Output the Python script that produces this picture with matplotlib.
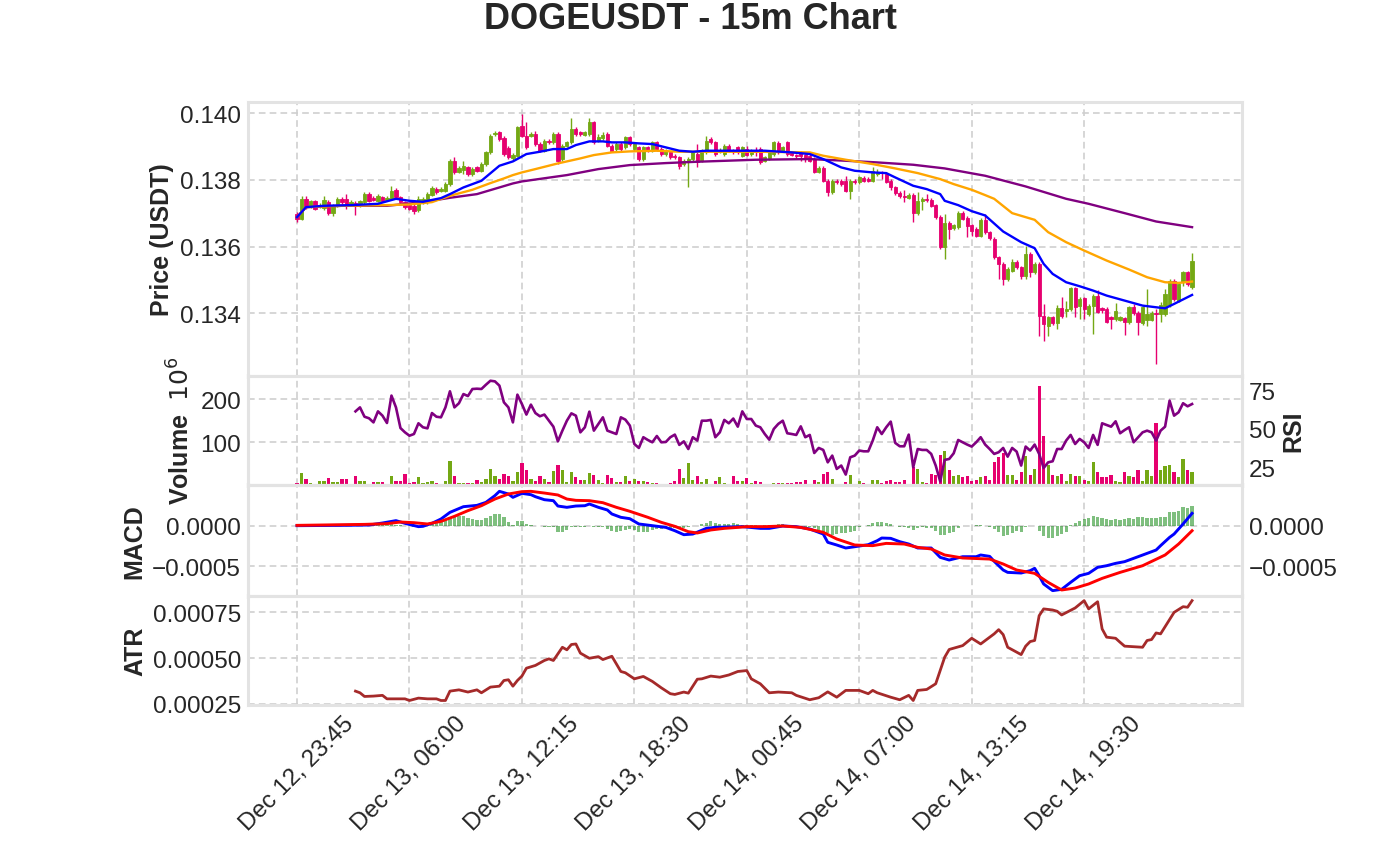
import matplotlib
matplotlib.use("Agg")
import matplotlib.pyplot as plt
import numpy as np
from matplotlib.ticker import FuncFormatter

plt.rcParams['font.family'] = ['Liberation Sans', 'DejaVu Sans']

# ---------------- data ----------------
title = "DOGEUSDT - 15m Chart"
tick_idx = [0, 25, 50, 75, 100, 125, 150, 175]
tick_labels = ["Dec 12, 23:45", "Dec 13, 06:00", "Dec 13, 12:15", "Dec 13, 18:30",
               "Dec 14, 00:45", "Dec 14, 07:00", "Dec 14, 13:15", "Dec 14, 19:30"]

opens = [0.13698,0.13683,0.13743,0.13720,0.13735,0.13720,0.13715,0.13733,0.13700,0.13722,
 0.13743,0.13743,0.13725,0.13730,0.13722,0.13733,0.13757,0.13745,0.13737,0.13748,
 0.13740,0.13743,0.13770,0.13748,0.13733,0.13724,0.13722,0.13708,0.13733,0.13733,
 0.13754,0.13772,0.13767,0.13767,0.13787,0.13857,0.13824,0.13830,0.13837,0.13817,
 0.13837,0.13827,0.13847,0.13882,0.13936,0.13942,0.13924,0.13894,0.13864,0.13872,
 0.13962,0.13932,0.13932,0.13937,0.13907,0.13887,0.13917,0.13912,0.13937,0.13862,
 0.13902,0.13912,0.13952,0.13942,0.13934,0.13937,0.13972,0.13917,0.13924,0.13937,
 0.13902,0.13892,0.13907,0.13897,0.13927,0.13892,0.13897,0.13862,0.13897,0.13887,
 0.13912,0.13892,0.13877,0.13882,0.13872,0.13867,0.13847,0.13857,0.13862,0.13877,
 0.13857,0.13882,0.13922,0.13912,0.13884,0.13877,0.13902,0.13887,0.13897,0.13872,
 0.13892,0.13877,0.13887,0.13892,0.13857,0.13864,0.13877,0.13910,0.13887,0.13912,
 0.13882,0.13874,0.13880,0.13874,0.13872,0.13862,0.13824,0.13834,0.13797,0.13763,
 0.13797,0.13797,0.13795,0.13767,0.13797,0.13792,0.13805,0.13802,0.13797,0.13817,
 0.13824,0.13817,0.13797,0.13778,0.13760,0.13752,0.13746,0.13754,0.13700,0.13737,
 0.13743,0.13740,0.13724,0.13688,0.13598,0.13670,0.13655,0.13658,0.13701,0.13685,
 0.13663,0.13653,0.13633,0.13680,0.13643,0.13623,0.13568,0.13548,0.13503,0.13528,
 0.13555,0.13538,0.13513,0.13578,0.13523,0.13548,0.13391,0.13363,0.13388,0.13371,
 0.13415,0.13408,0.13413,0.13475,0.13421,0.13445,0.13398,0.13423,0.13453,0.13415,
 0.13413,0.13388,0.13383,0.13381,0.13385,0.13373,0.13418,0.13401,0.13371,0.13381,
 0.13381,0.13401,0.13398,0.13398,0.13425,0.13498,0.13438,0.13493,0.13523,0.13478]

highs = [0.13703,0.13752,0.13752,0.13740,0.13740,0.13730,0.13752,0.13738,0.13727,0.13748,
 0.13748,0.13757,0.13738,0.13735,0.13740,0.13762,0.13762,0.13750,0.13757,0.13752,
 0.13750,0.13781,0.13775,0.13752,0.13737,0.13728,0.13727,0.13750,0.13748,0.13762,
 0.13782,0.13777,0.13777,0.13792,0.13862,0.13867,0.13840,0.13855,0.13842,0.13837,
 0.13842,0.13852,0.13887,0.13937,0.13947,0.13947,0.13930,0.13900,0.13880,0.13962,
 0.13997,0.13972,0.13942,0.13947,0.13912,0.13922,0.13922,0.13942,0.13942,0.13907,
 0.13917,0.13984,0.13957,0.13947,0.13947,0.13984,0.13977,0.13937,0.13942,0.13942,
 0.13907,0.13912,0.13912,0.13932,0.13932,0.13912,0.13902,0.13902,0.13902,0.13917,
 0.13917,0.13897,0.13892,0.13887,0.13877,0.13872,0.13862,0.13867,0.13887,0.13907,
 0.13892,0.13932,0.13927,0.13917,0.13895,0.13907,0.13907,0.13892,0.13902,0.13902,
 0.13902,0.13892,0.13897,0.13897,0.13872,0.13887,0.13917,0.13915,0.13902,0.13917,
 0.13887,0.13877,0.13887,0.13877,0.13877,0.13867,0.13840,0.13840,0.13802,0.13802,
 0.13802,0.13802,0.13812,0.13802,0.13802,0.13812,0.13810,0.13807,0.13837,0.13832,
 0.13827,0.13822,0.13802,0.13782,0.13765,0.13770,0.13760,0.13760,0.13763,0.13748,
 0.13757,0.13745,0.13728,0.13693,0.13698,0.13675,0.13668,0.13706,0.13706,0.13690,
 0.13668,0.13658,0.13685,0.13698,0.13648,0.13628,0.13573,0.13553,0.13538,0.13563,
 0.13560,0.13543,0.13603,0.13583,0.13553,0.13553,0.13428,0.13393,0.13393,0.13425,
 0.13448,0.13438,0.13480,0.13480,0.13448,0.13450,0.13428,0.13458,0.13471,0.13420,
 0.13418,0.13393,0.13431,0.13393,0.13390,0.13423,0.13428,0.13406,0.13423,0.13473,
 0.13406,0.13413,0.13433,0.13473,0.13503,0.13503,0.13493,0.13528,0.13528,0.13582]

lows = [0.13673,0.13678,0.13713,0.13715,0.13708,0.13715,0.13710,0.13695,0.13690,0.13718,
 0.13728,0.13713,0.13720,0.13693,0.13718,0.13728,0.13733,0.13735,0.13733,0.13733,
 0.13737,0.13740,0.13743,0.13728,0.13713,0.13708,0.13698,0.13703,0.13728,0.13728,
 0.13750,0.13757,0.13762,0.13762,0.13782,0.13817,0.13820,0.13817,0.13812,0.13810,
 0.13822,0.13822,0.13842,0.13877,0.13932,0.13917,0.13872,0.13862,0.13860,0.13867,
 0.13927,0.13892,0.13927,0.13902,0.13882,0.13882,0.13907,0.13907,0.13847,0.13857,
 0.13897,0.13907,0.13932,0.13932,0.13930,0.13932,0.13907,0.13912,0.13920,0.13897,
 0.13882,0.13887,0.13887,0.13892,0.13902,0.13887,0.13857,0.13857,0.13882,0.13882,
 0.13887,0.13872,0.13872,0.13862,0.13862,0.13832,0.13842,0.13778,0.13857,0.13837,
 0.13852,0.13877,0.13907,0.13872,0.13880,0.13872,0.13882,0.13877,0.13877,0.13867,
 0.13870,0.13872,0.13872,0.13847,0.13852,0.13860,0.13872,0.13877,0.13882,0.13872,
 0.13870,0.13865,0.13857,0.13852,0.13852,0.13819,0.13820,0.13792,0.13752,0.13757,
 0.13787,0.13782,0.13762,0.13743,0.13787,0.13787,0.13792,0.13792,0.13792,0.13812,
 0.13802,0.13789,0.13770,0.13755,0.13745,0.13733,0.13742,0.13673,0.13695,0.13708,
 0.13733,0.13717,0.13683,0.13593,0.13563,0.13623,0.13650,0.13653,0.13678,0.13628,
 0.13633,0.13628,0.13628,0.13638,0.13621,0.13563,0.13503,0.13485,0.13498,0.13523,
 0.13533,0.13503,0.13503,0.13508,0.13518,0.13333,0.13318,0.13333,0.13366,0.13353,
 0.13386,0.13388,0.13408,0.13388,0.13383,0.13383,0.13393,0.13338,0.13400,0.13401,
 0.13370,0.13353,0.13378,0.13376,0.13336,0.13368,0.13396,0.13336,0.13366,0.13363,
 0.13376,0.13249,0.13373,0.13393,0.13420,0.13438,0.13433,0.13483,0.13483,0.13473]

closes = [0.13683,0.13743,0.13718,0.13735,0.13713,0.13725,0.13740,0.13700,0.13722,0.13743,
 0.13733,0.13728,0.13732,0.13722,0.13735,0.13757,0.13737,0.13740,0.13750,0.13737,
 0.13745,0.13767,0.13748,0.13733,0.13718,0.13713,0.13705,0.13743,0.13743,0.13757,
 0.13774,0.13762,0.13772,0.13787,0.13857,0.13822,0.13834,0.13842,0.13817,0.13832,
 0.13827,0.13847,0.13882,0.13932,0.13940,0.13922,0.13877,0.13867,0.13874,0.13957,
 0.13932,0.13897,0.13937,0.13907,0.13887,0.13917,0.13912,0.13937,0.13857,0.13902,
 0.13912,0.13952,0.13937,0.13937,0.13942,0.13972,0.13914,0.13927,0.13934,0.13902,
 0.13887,0.13907,0.13892,0.13927,0.13907,0.13907,0.13862,0.13897,0.13887,0.13912,
 0.13892,0.13877,0.13887,0.13867,0.13867,0.13842,0.13857,0.13862,0.13882,0.13852,
 0.13887,0.13917,0.13912,0.13877,0.13890,0.13902,0.13887,0.13882,0.13882,0.13897,
 0.13875,0.13887,0.13882,0.13852,0.13867,0.13882,0.13912,0.13882,0.13897,0.13877,
 0.13874,0.13870,0.13870,0.13862,0.13857,0.13824,0.13834,0.13797,0.13764,0.13797,
 0.13792,0.13787,0.13767,0.13797,0.13792,0.13807,0.13797,0.13797,0.13827,0.13824,
 0.13820,0.13794,0.13778,0.13760,0.13750,0.13748,0.13754,0.13700,0.13737,0.13743,
 0.13738,0.13722,0.13688,0.13598,0.13670,0.13653,0.13663,0.13701,0.13683,0.13661,
 0.13648,0.13633,0.13680,0.13643,0.13626,0.13568,0.13548,0.13503,0.13533,0.13555,
 0.13538,0.13513,0.13578,0.13523,0.13548,0.13391,0.13368,0.13388,0.13371,0.13415,
 0.13391,0.13413,0.13475,0.13418,0.13443,0.13413,0.13423,0.13453,0.13405,0.13411,
 0.13375,0.13383,0.13408,0.13388,0.13373,0.13418,0.13401,0.13373,0.13418,0.13398,
 0.13401,0.13398,0.13425,0.13458,0.13498,0.13443,0.13488,0.13523,0.13488,0.13558]

volume_m = [6,29,14,5,4,10,10,18,8,9,15,15,4,21,10,11,4,9,7,7,
 3,23,10,11,27,6,8,19,5,9,11,5,3,11,57,21,6,5,6,6,
 13,9,15,37,22,14,27,23,11,30,53,35,16,11,23,14,8,34,48,35,
 9,32,19,12,13,29,25,13,5,25,18,9,7,21,11,16,10,11,7,5,
 5,3,3,5,10,37,18,51,12,21,9,16,4,11,19,5,3,23,10,11,
 18,5,11,8,4,3,6,6,6,5,5,7,9,13,4,13,9,27,30,15,
 4,4,9,25,3,11,5,3,13,13,6,10,13,9,9,13,3,43,38,9,
 5,27,25,71,80,36,23,25,19,23,11,13,19,23,13,55,67,76,25,25,
 13,30,68,25,37,232,114,48,25,21,27,11,27,23,23,13,11,55,31,19,
 19,25,11,9,30,23,19,36,11,35,23,146,36,45,48,32,19,61,36,30]

# moving averages (candle index, value)
ema_fast_idx = [0,2,6,12,18,22,25,28,32,34,37,41,45,48,51,54,57,60,62,65,68,70,73,76,79,82,85,88,
 91,94,99,104,110,114,117,121,124,128,131,133,137,140,143,144,147,150,153,157,161,164,166,168,
 171,174,177,180,184,188,191,193,195,199]
ema_fast = [0.13688,0.13718,0.13722,0.13724,0.13728,0.13743,0.13737,0.13734,0.13745,0.13757,
 0.13777,0.13797,0.13842,0.13855,0.13877,0.13884,0.13892,0.13892,0.13904,0.13915,0.13915,
 0.13912,0.13912,0.13909,0.13907,0.13897,0.13887,0.13884,0.13887,0.13887,0.13887,0.13887,
 0.13882,0.13877,0.13862,0.13837,0.13827,0.13822,0.13820,0.13807,0.13782,0.13772,0.13757,
 0.13737,0.13724,0.13706,0.13693,0.13645,0.13613,0.13595,0.13548,0.13518,0.13493,0.13481,
 0.13468,0.13453,0.13438,0.13423,0.13418,0.13415,0.13428,0.13455]

ema_mid_idx = [0,2,10,20,25,30,34,39,43,46,48,50,53,58,63,66,70,74,80,85,90,94,102,114,117,
 122,128,133,138,143,146,150,153,155,159,164,167,171,175,180,185,189,193,196,199]
ema_mid = [0.13688,0.13718,0.13722,0.13724,0.13726,0.13733,0.13752,0.13770,0.13790,0.13804,
 0.13814,0.13822,0.13832,0.13849,0.13864,0.13874,0.13882,0.13885,0.13887,0.13884,0.13884,
 0.13884,0.13884,0.13882,0.13872,0.13860,0.13847,0.13834,0.13820,0.13802,0.13787,0.13770,
 0.13754,0.13743,0.13700,0.13680,0.13643,0.13613,0.13588,0.13558,0.13531,0.13508,0.13493,
 0.13491,0.13495]

ema_slow_idx = [0,2,10,20,28,34,40,45,48,50,60,67,74,82,89,102,114,122,129,137,144,153,162,
 171,176,184,191,199]
ema_slow = [0.13688,0.13718,0.13722,0.13722,0.13733,0.13746,0.13757,0.13777,0.13789,0.13795,
 0.13814,0.13832,0.13844,0.13850,0.13854,0.13860,0.13862,0.13857,0.13852,0.13845,0.13834,
 0.13812,0.13780,0.13743,0.13728,0.13700,0.13675,0.13658]

# RSI (from candle 13 onward)
rsi_start = 13
rsi = [61.5,64.1,58.0,57.0,54.3,61.5,58.7,53.9,71.8,64.1,
 50.6,47.8,45.6,46.7,53.7,51.1,50.4,60.4,58.0,57.6,
 64.1,74.6,64.1,66.8,72.8,71.5,76.1,76.3,76.1,78.9,
 81.5,81.1,78.3,67.4,64.1,54.3,72.4,66.3,59.4,65.9,
 60.4,58.3,59.4,55.4,51.5,41.9,48.9,55.4,60.2,58.7,
 47.8,51.1,61.3,48.9,53.3,57.6,48.9,47.8,46.7,57.6,
 56.1,52.2,40.2,37.6,44.6,42.8,41.3,45.4,41.3,41.5,
 44.6,46.3,39.6,41.9,36.9,44.6,42.4,55.4,55.4,55.9,
 44.6,47.8,55.9,53.7,56.8,51.5,61.5,56.5,56.5,52.2,
 51.1,46.7,43.0,50.0,53.3,55.4,47.2,46.7,46.1,51.7,
 44.6,46.1,34.3,37.6,36.3,28.2,32.6,23.9,26.1,20.2,
 31.5,32.6,35.9,35.4,35.4,42.4,51.1,46.7,51.1,54.8,
 40.9,38.7,38.7,46.3,25.0,36.9,36.3,36.3,33.7,26.1,
 15.8,29.8,30.4,34.1,42.8,41.3,39.8,38.5,41.3,44.6,
 39.8,36.9,33.7,34.8,37.6,31.9,37.6,35.2,26.1,38.5,
 35.9,39.8,33.7,24.5,28.2,28.9,36.9,36.9,42.4,46.1,
 40.2,43.5,41.3,37.6,46.1,39.6,53.7,52.6,51.5,55.0,
 47.2,49.3,51.1,41.3,44.6,47.8,48.9,47.8,42.4,48.9,
 51.5,68.5,58.7,60.9,66.8,64.8,66.3]

# MACD line and signal (candle index, value)
macd_idx = [0,10,16,19,22,24,27,28,30,32,34,37,40,42,44,45,47,48,50,52,53,55,57,58,60,62,64,65,
 67,69,70,72,74,76,79,82,84,86,88,91,93,96,99,103,105,108,111,114,117,118,120,122,124,127,129,
 130,132,134,136,138,141,143,145,148,151,152,154,155,157,158,161,163,164,165,166,168,170,172,
 174,176,178,180,182,184,187,189,191,192,194,195,197,199]
macd = [0.0,4e-6,8e-6,33e-6,62e-6,29e-6,-12e-6,-8e-6,29e-6,82e-6,164e-6,234e-6,250e-6,287e-6,
 370e-6,423e-6,390e-6,349e-6,398e-6,382e-6,357e-6,320e-6,308e-6,242e-6,226e-6,242e-6,246e-6,
 267e-6,226e-6,193e-6,144e-6,103e-6,86e-6,21e-6,0.0,-21e-6,-62e-6,-111e-6,-103e-6,-33e-6,
 -21e-6,-16e-6,-12e-6,-33e-6,-33e-6,-4e-6,-12e-6,-41e-6,-103e-6,-205e-6,-238e-6,-275e-6,
 -259e-6,-234e-6,-185e-6,-152e-6,-156e-6,-197e-6,-226e-6,-275e-6,-275e-6,-390e-6,-423e-6,
 -382e-6,-382e-6,-361e-6,-378e-6,-439e-6,-546e-6,-575e-6,-583e-6,-554e-6,-525e-6,-616e-6,
 -718e-6,-800e-6,-784e-6,-698e-6,-616e-6,-587e-6,-513e-6,-493e-6,-464e-6,-443e-6,-382e-6,
 -341e-6,-300e-6,-246e-6,-144e-6,-103e-6,21e-6,152e-6]

signal_idx = [0,15,20,23,26,29,32,35,38,41,44,47,50,52,55,58,60,62,65,68,71,74,78,81,84,87,89,
 92,95,98,100,104,108,112,117,120,124,128,131,135,138,141,144,148,154,157,160,164,167,170,173,
 176,179,183,188,193,196,199]
signal = [4e-6,16e-6,25e-6,45e-6,37e-6,21e-6,53e-6,115e-6,185e-6,246e-6,328e-6,390e-6,419e-6,
 423e-6,402e-6,378e-6,328e-6,312e-6,308e-6,283e-6,226e-6,177e-6,103e-6,41e-6,-8e-6,-74e-6,
 -90e-6,-53e-6,-33e-6,-21e-6,-12e-6,-12e-6,-4e-6,-21e-6,-82e-6,-164e-6,-238e-6,-246e-6,
 -218e-6,-226e-6,-267e-6,-287e-6,-361e-6,-398e-6,-411e-6,-472e-6,-546e-6,-587e-6,-698e-6,
 -792e-6,-768e-6,-718e-6,-649e-6,-575e-6,-493e-6,-361e-6,-226e-6,-62e-6]

macd_hist = [0,0,0,0,1e-6,1e-6,1e-6,1e-6,2e-6,2e-6,2e-6,3e-6,3e-6,4e-6,4e-6,8e-6,8e-6,8e-6,8e-6,12e-6,
 12e-6,16e-6,12e-6,4e-6,0,-4e-6,-21e-6,-12e-6,-12e-6,0,21e-6,33e-6,53e-6,70e-6,103e-6,111e-6,
 123e-6,115e-6,90e-6,82e-6,74e-6,74e-6,90e-6,123e-6,144e-6,144e-6,103e-6,49e-6,12e-6,53e-6,
 53e-6,21e-6,12e-6,0,-8e-6,-21e-6,-21e-6,-12e-6,-74e-6,-74e-6,-53e-6,-21e-6,-12e-6,-12e-6,
 -12e-6,0,-12e-6,-21e-6,-21e-6,-41e-6,-62e-6,-82e-6,-62e-6,-53e-6,-41e-6,-53e-6,-82e-6,-82e-6,
 -74e-6,-49e-6,-37e-6,-37e-6,-29e-6,-29e-6,-33e-6,-41e-6,-33e-6,-21e-6,-8e-6,0,21e-6,33e-6,
 53e-6,29e-6,21e-6,21e-6,21e-6,29e-6,21e-6,12e-6,12e-6,12e-6,4e-6,0,4e-6,4e-6,12e-6,16e-6,
 16e-6,8e-6,0,0,-4e-6,-12e-6,-21e-6,-33e-6,-53e-6,-74e-6,-94e-6,-111e-6,-103e-6,-94e-6,-90e-6,
 -74e-6,-62e-6,-21e-6,-4e-6,4e-6,29e-6,49e-6,49e-6,29e-6,16e-6,0,-12e-6,-21e-6,-29e-6,-49e-6,
 -33e-6,-21e-6,-25e-6,-33e-6,-62e-6,-111e-6,-111e-6,-90e-6,-74e-6,-33e-6,-8e-6,0,0,4e-6,12e-6,
 -4e-6,-21e-6,-41e-6,-82e-6,-131e-6,-111e-6,-94e-6,-70e-6,-82e-6,-21e-6,-8e-6,-8e-6,-62e-6,
 -123e-6,-152e-6,-152e-6,-123e-6,-103e-6,-74e-6,12e-6,33e-6,62e-6,82e-6,90e-6,115e-6,111e-6,
 90e-6,78e-6,74e-6,78e-6,66e-6,82e-6,94e-6,86e-6,103e-6,103e-6,94e-6,94e-6,90e-6,103e-6,
 103e-6,164e-6,164e-6,185e-6,226e-6,213e-6,238e-6]

atr_idx = [13,14,15,17,19,20,22,24,25,27,29,31,32,33,34,36,38,40,41,43,45,46,47,48,49,50,51,53,55,
 56,57,59,60,61,62,63,65,67,68,70,72,73,75,77,79,81,83,84,86,87,89,90,92,94,96,98,100,101,103,
 105,107,110,111,114,116,118,120,122,125,127,128,129,132,134,136,137,138,140,142,144,145,148,
 150,152,155,156,157,158,161,162,163,164,165,166,168,169,170,173,175,176,178,179,180,182,183,
 184,188,189,190,191,192,195,197,198,199]
atr = [3.20e-4,3.11e-4,2.91e-4,2.93e-4,2.97e-4,2.78e-4,2.78e-4,2.78e-4,2.69e-4,2.82e-4,
 2.78e-4,2.78e-4,2.69e-4,2.69e-4,3.20e-4,3.27e-4,3.15e-4,3.27e-4,3.11e-4,3.42e-4,
 3.47e-4,3.78e-4,3.82e-4,3.47e-4,3.78e-4,4.02e-4,4.45e-4,4.60e-4,4.87e-4,4.96e-4,
 4.87e-4,5.59e-4,5.45e-4,5.74e-4,5.77e-4,5.27e-4,4.99e-4,5.08e-4,4.92e-4,5.10e-4,
 4.27e-4,4.20e-4,3.87e-4,4.00e-4,3.73e-4,3.38e-4,3.06e-4,3.02e-4,3.15e-4,3.09e-4,
 3.85e-4,3.87e-4,4.02e-4,3.96e-4,4.08e-4,4.27e-4,4.32e-4,3.87e-4,3.60e-4,3.11e-4,
 3.15e-4,3.11e-4,2.97e-4,2.73e-4,2.84e-4,3.16e-4,2.87e-4,3.24e-4,3.24e-4,3.06e-4,
 3.24e-4,3.11e-4,2.87e-4,2.73e-4,2.97e-4,2.69e-4,3.24e-4,3.29e-4,3.60e-4,5.05e-4,
 5.47e-4,5.68e-4,6.08e-4,5.77e-4,6.32e-4,6.55e-4,6.28e-4,5.59e-4,5.19e-4,5.65e-4,
 5.90e-4,5.96e-4,7.31e-4,7.68e-4,7.62e-4,7.55e-4,7.35e-4,7.73e-4,8.13e-4,7.68e-4,
 8.07e-4,6.59e-4,6.14e-4,6.08e-4,5.86e-4,5.65e-4,5.59e-4,5.96e-4,6.01e-4,6.37e-4,
 6.32e-4,7.49e-4,7.80e-4,7.77e-4,8.13e-4]

# ---------------- styling ----------------
UP = '#74a814'
DOWN = '#e6006f'
TXT = '#262626'
SPINE = '#e3e3e3'
GRID = '#cfcfcf'
TICK_FS = 17.5
LAB_FS = 18

fig = plt.figure(figsize=(13.8, 8.62), dpi=100)
fig.patch.set_facecolor('white')
L, W = 0.1797, 0.7203
ax_p = fig.add_axes([L, 0.5630, W, 0.3179])
ax_v = fig.add_axes([L, 0.4362, W, 0.1268], sharex=ax_p)
ax_m = fig.add_axes([L, 0.3078, W, 0.1284], sharex=ax_p)
ax_a = fig.add_axes([L, 0.1813, W, 0.1265], sharex=ax_p)


def style(ax, grid=True):
    ax.set_facecolor('white')
    for s in ax.spines.values():
        s.set_color(SPINE)
        s.set_linewidth(2.2)
    ax.tick_params(length=0, labelsize=TICK_FS, labelcolor=TXT, pad=5)
    if grid:
        ax.set_axisbelow(True)
        ax.grid(True, color=GRID, linestyle=(0, (4, 2.5)), linewidth=1.2)
    else:
        ax.grid(False)


for ax in (ax_p, ax_v, ax_m, ax_a):
    style(ax)


def fmt(dec):
    return FuncFormatter(lambda v, p: f"{v:.{dec}f}".replace("-", "\u2212"))


o = np.array(opens)
h = np.array(highs)
lo = np.array(lows)
c = np.array(closes)
x = np.arange(len(o))
cols = np.where(c >= o, UP, DOWN)

# price candles
ax_p.vlines(x, lo, h, colors=cols, linewidth=1.0, zorder=2)
ax_p.bar(x, np.abs(c - o), bottom=np.minimum(o, c), width=0.72, color=cols,
         edgecolor=cols, linewidth=0.6, zorder=3)
ax_p.plot(ema_slow_idx, ema_slow, color='purple', linewidth=1.7, zorder=4)
ax_p.plot(ema_mid_idx, ema_mid, color='orange', linewidth=1.7, zorder=4)
ax_p.plot(ema_fast_idx, ema_fast, color='blue', linewidth=1.7, zorder=5)
ax_p.set_ylim(0.13213, 0.14034)
ax_p.set_yticks([0.134, 0.136, 0.138, 0.140])
ax_p.yaxis.set_major_formatter(fmt(3))
ax_p.set_ylabel('Price (USDT)', fontsize=LAB_FS, fontweight='bold', color=TXT)

# volume + RSI
ax_v.bar(x, volume_m, width=0.72, color=cols, zorder=2)
ax_v.set_ylim(0.9, 255.3)
ax_v.set_yticks([100, 200])
ax_v.yaxis.set_major_formatter(fmt(0))
ax_v.set_ylabel('Volume  $10^{6}$', fontsize=LAB_FS, fontweight='bold', color=TXT)
ax_r = ax_v.twinx()
style(ax_r, grid=False)
ax_r.plot(np.arange(rsi_start, rsi_start + len(rsi)), rsi, color='purple', linewidth=1.9, zorder=4)
ax_r.set_ylim(13.4, 84.8)
ax_r.set_yticks([25, 50, 75])
ax_r.set_ylabel('RSI', fontsize=LAB_FS, fontweight='bold', color=TXT)

# MACD
ax_m.bar(x, macd_hist, width=0.72, color='green', alpha=0.5, zorder=2)
ax_m.plot(macd_idx, macd, color='blue', linewidth=2.1, zorder=4)
ax_m.plot(signal_idx, signal, color='red', linewidth=2.1, zorder=4)
ax_m.set_ylim(-0.000862, 0.000501)
ax_m.set_yticks([-0.0005, 0.0])
ax_m.yaxis.set_major_formatter(fmt(4))
ax_m.set_ylabel('MACD', fontsize=LAB_FS, fontweight='bold', color=TXT)
ax_m2 = ax_m.twinx()
style(ax_m2, grid=False)
ax_m2.set_ylim(-0.000862, 0.000501)
ax_m2.set_yticks([-0.0005, 0.0])
ax_m2.yaxis.set_major_formatter(fmt(4))

# ATR
ax_a.plot(atr_idx, atr, color='brown', linewidth=2.0, zorder=4)
ax_a.set_ylim(0.000246, 0.00084)
ax_a.set_yticks([0.00025, 0.0005, 0.00075])
ax_a.yaxis.set_major_formatter(fmt(5))
ax_a.set_ylabel('ATR', fontsize=LAB_FS, fontweight='bold', color=TXT)

# shared x axis
ax_p.set_xlim(-10.9, 210.1)
ax_a.set_xticks(tick_idx)
ax_a.set_xticklabels(tick_labels, rotation=45, ha='center')
for ax in (ax_p, ax_v, ax_m):
    ax.tick_params(axis='x', labelbottom=False)

fig.text(0.5, 0.977, title, ha='center', va='center', fontsize=26,
         fontweight='bold', color=TXT)

fig.savefig('out.png', dpi=100, facecolor='white')
